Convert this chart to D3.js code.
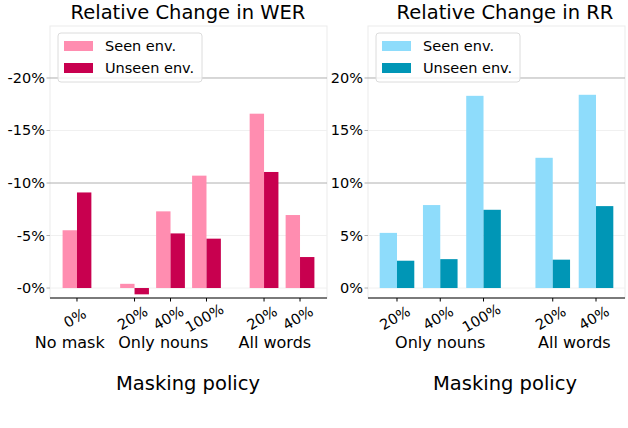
<!DOCTYPE html>
<html>
<head>
<meta charset="utf-8">
<script src="https://cdn.jsdelivr.net/npm/d3@7"></script>
<style>
  body { margin: 0; background: #fff; }
  text { font-family: "DejaVu Sans", sans-serif; fill: #000; }
</style>
</head>
<body>
<svg id="chart" width="628" height="428"></svg>
<script>
// data
let groups_wer = ["No mask", "Only nouns", "All words"]
let ticks_wer = [["0%"], ["20%", "40%", "100%"], ["20%", "40%"]]
let seen_wer = [5.5, 0.4, 7.3, 10.7, 16.6, 6.95]
let unseen_wer = [9.1, -0.6, 5.2, 4.7, 11.05, 2.95]

let groups_rr = ["Only nouns", "All words"]
let ticks_rr = [["20%", "40%", "100%"], ["20%", "40%"]]
let seen_rr = [5.25, 7.9, 18.3, 12.4, 18.4]
let unseen_rr = [2.6, 2.75, 7.45, 2.7, 7.8]

let y_ticks = [0, 5, 10, 15, 20]
let legend_labels = ["Seen env.", "Unseen env."]

let svg = d3.select("#chart")

function slots(tickGroups) {
  // position of each bar pair: index + 0.6 gap per group
  let out = [], i = 0
  tickGroups.forEach((g, gi) => {
    g.forEach(t => { out.push({ pos: i + 0.6 * gi, label: t, group: gi }); i++ })
  })
  return out
}

function draw_panel(opts) {
  let { left, right, title, groups, tickGroups, seen, unseen, colors, neg, labelShift, centerX } = opts
  let top = 26, bottom = 298
  let s = slots(tickGroups)
  let maxPos = d3.max(s, d => d.pos)
  let pad = 0.4 + (maxPos + 0.8) * 0.05
  let x = d3.scaleLinear().domain([-pad, maxPos + pad]).range([left, right])
  let y = d3.scaleLinear().domain([-0.95, 24.95]).range([bottom, top])
  let g = svg.append("g")

  // frame
  g.append("rect")
    .attr("x", left).attr("y", top)
    .attr("width", right - left).attr("height", bottom - top)
    .attr("fill", "none").attr("stroke", "#ebebeb").attr("stroke-width", 1)

  // grid
  g.selectAll(".grid")
    .data(y_ticks).enter()
    .append("line")
    .attr("x1", left).attr("x2", right)
    .attr("y1", d => y(d)).attr("y2", d => y(d))
    .attr("stroke", d => d % 10 == 0 && d != 0 ? "#b0b0b0" : "#f0f0f0")
    .attr("stroke-width", 1)

  // y ticks
  g.selectAll(".ytick")
    .data(y_ticks).enter()
    .append("line")
    .attr("x1", left - 3.5).attr("x2", left)
    .attr("y1", d => y(d)).attr("y2", d => y(d))
    .attr("stroke", "#b0b0b0")
  g.selectAll(".ylab")
    .data(y_ticks).enter()
    .append("text")
    .attr("x", left - 5).attr("y", d => y(d) + 5)
    .attr("text-anchor", "end")
    .style("font-size", "14.5px")
    .text(d => (neg ? "-" : "") + d + "%")

  // bars
  let w = x(0.4) - x(0)
  g.selectAll(".seen")
    .data(s).enter()
    .append("rect")
    .attr("x", d => x(d.pos) - w)
    .attr("width", w)
    .attr("y", (d, i) => y(Math.max(0, seen[i])))
    .attr("height", (d, i) => Math.abs(y(seen[i]) - y(0)))
    .attr("fill", colors[0])
  g.selectAll(".unseen")
    .data(s).enter()
    .append("rect")
    .attr("x", d => x(d.pos))
    .attr("width", w)
    .attr("y", (d, i) => y(Math.max(0, unseen[i])))
    .attr("height", (d, i) => Math.abs(y(unseen[i]) - y(0)))
    .attr("fill", colors[1])

  // bottom spine
  g.append("line")
    .attr("x1", left).attr("x2", right)
    .attr("y1", bottom).attr("y2", bottom)
    .attr("stroke", "#000").attr("stroke-width", 1.2)

  // x ticks
  g.selectAll(".xtick")
    .data(s).enter()
    .append("line")
    .attr("x1", d => x(d.pos)).attr("x2", d => x(d.pos))
    .attr("y1", bottom).attr("y2", bottom + 3.5)
    .attr("stroke", "#000")
  g.selectAll(".xlab")
    .data(s).enter()
    .append("text")
    .attr("transform", d => `translate(${x(d.pos) - 2}, ${318}) rotate(-30)`)
    .attr("text-anchor", "middle")
    .attr("dy", "0.35em")
    .style("font-size", "14.5px")
    .text(d => d.label)

  // group labels
  g.selectAll(".glab")
    .data(groups).enter()
    .append("text")
    .attr("x", (d, gi) => {
      let p = s.filter(e => e.group == gi).map(e => e.pos)
      return x((d3.min(p) + d3.max(p)) / 2 + labelShift)
    })
    .attr("y", 348)
    .attr("text-anchor", "middle")
    .style("font-size", "16px")
    .text(d => d)

  // axis label and title
  g.append("text")
    .attr("x", centerX).attr("y", 390)
    .attr("text-anchor", "middle")
    .style("font-size", "19.5px")
    .text("Masking policy")
  g.append("text")
    .attr("x", centerX).attr("y", 19)
    .attr("text-anchor", "middle")
    .style("font-size", "19.5px")
    .text(title)

  // legend
  let lx = left + 8, ly = 33
  g.append("rect")
    .attr("x", lx).attr("y", ly)
    .attr("width", 144).attr("height", 49)
    .attr("rx", 3)
    .attr("fill", "rgba(255,255,255,0.8)")
    .attr("stroke", "#dcdcdc")
  legend_labels.forEach((t, i) => {
    g.append("rect")
      .attr("x", lx + 6).attr("y", ly + 8 + i * 22)
      .attr("width", 29).attr("height", 10)
      .attr("fill", colors[i])
    g.append("text")
      .attr("x", lx + 47).attr("y", ly + 18 + i * 22)
      .style("font-size", "14.5px")
      .text(t)
  })
}

draw_panel({
  left: 50, right: 327, title: "Relative Change in WER",
  groups: groups_wer, tickGroups: ticks_wer,
  seen: seen_wer, unseen: unseen_wer,
  colors: ["#ff8db0", "#c8004f"], neg: true, labelShift: -0.2, centerX: 188
})

draw_panel({
  left: 368, right: 625, title: "Relative Change in RR",
  groups: groups_rr, tickGroups: ticks_rr,
  seen: seen_rr, unseen: unseen_rr,
  colors: ["#8edcfb", "#0096b6"], neg: false, labelShift: 0, centerX: 505
})
</script>
</body>
</html>
